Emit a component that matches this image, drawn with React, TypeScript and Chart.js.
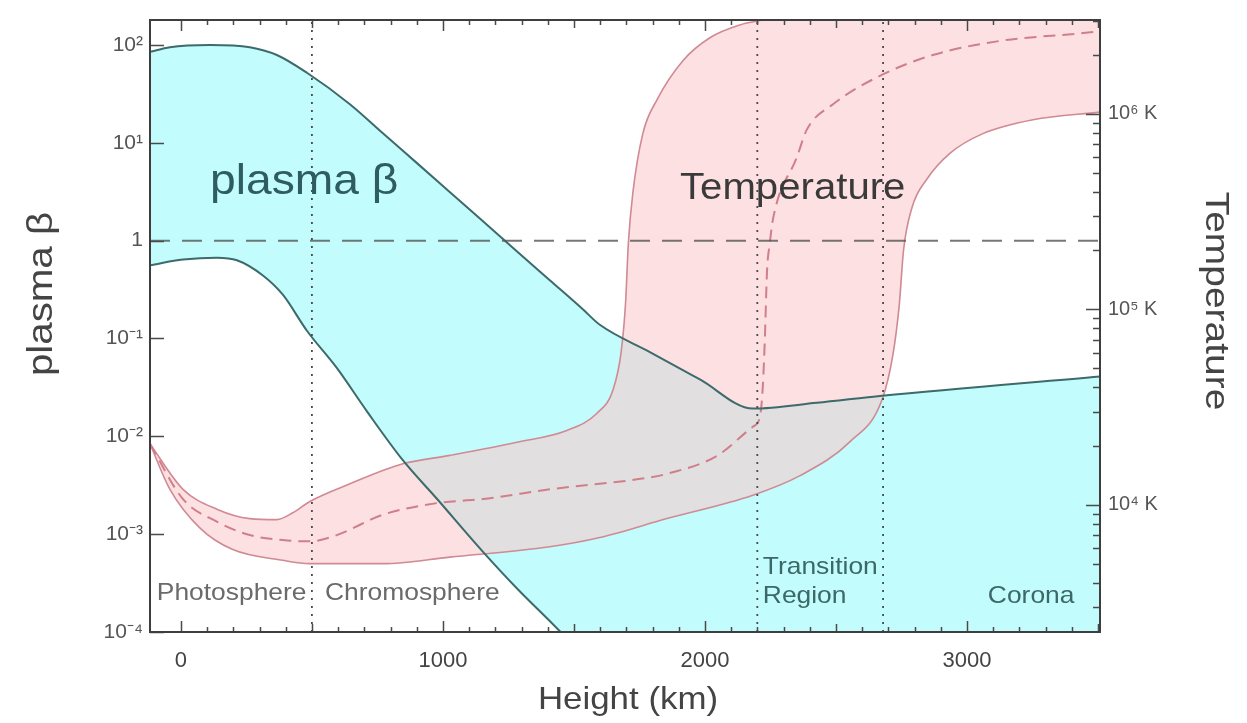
import React, { useEffect, useRef } from "react";
import { Chart, registerables } from "chart.js";

Chart.register(...registerables);

// ---------- axis ranges & ticks ----------
const X_MIN = -118;
const X_MAX = 3508;
const BETA_MIN = 1e-4;
const BETA_MAX = 180;
const T_MIN = 2235;
const T_MAX = 3.02e6;

const xTickValues = [0, 1000, 2000, 3000];
const xMinorStep = 100;
const betaTickValues = [1e-4, 1e-3, 1e-2, 1e-1, 1, 10, 100];
const betaTickLabels = ["10⁻⁴", "10⁻³", "10⁻²", "10⁻¹", "1", "10¹", "10²"];
const tempTickValues = [1e4, 1e5, 1e6];
const tempTickLabels = ["10⁴ K", "10⁵ K", "10⁶ K"];
const tempMinorMultipliers = [2, 3, 4, 5, 6, 7, 8, 9];

const xTitle = "Height (km)";
const betaTitle = "plasma β";
const tempTitle = "Temperature";

// ---------- plasma beta curves ----------
const betaUpperH = [-118, -42, 111, 263, 366, 481, 645, 771, 901, 1027, 1153, 1282, 1408, 1534, 1599, 1790, 1981, 2183, 2427, 2676, 3508];
const betaUpperV = [85, 95, 100, 95, 79, 52, 24.8, 12.5, 6.2, 3.13, 1.58, 0.78, 0.394, 0.199, 0.138, 0.0727, 0.0381, 0.0192, 0.022, 0.026, 0.041];

const betaLowerH = [-118, 8, 137, 214, 313, 389, 481, 595, 710, 847, 977, 1153, 1282, 1420, 1600, 3508];
const betaLowerV = [0.56, 0.64, 0.67, 0.63, 0.44, 0.28, 0.12, 0.05, 0.018, 0.0057, 0.0023, 6.6e-4, 2.8e-4, 1.2e-4, 3.9e-5, 3e-10];

// ---------- temperature curves ----------
const tempHotH = [-118, 8, 137, 263, 366, 427, 492, 645, 847, 1027, 1282, 1473, 1588, 1650, 1680, 1697, 1708, 1725, 1763, 1817, 1916, 2019, 2134, 2210, 2400, 3508];
const tempHotV = [20500, 12000, 9500, 8500, 8400, 9100, 10400, 12800, 16200, 17900, 20900, 24000, 29400, 39000, 60000, 107000, 220000, 394000, 792000, 1.18e6, 1.87e6, 2.45e6, 2.85e6, 3.0e6, 3.4e6, 4e6];

const tempCoolH = [-118, -42, 73, 198, 389, 492, 771, 1027, 1408, 1599, 1855, 2183, 2363, 2553, 2676, 2718, 2742, 2758, 2790, 2847, 2935, 3061, 3252, 3508];
const tempCoolV = [20500, 12000, 7600, 5900, 5200, 5000, 5000, 5400, 6100, 6800, 8500, 11200, 14100, 21000, 34500, 59000, 106000, 200000, 330000, 463000, 628000, 792000, 933000, 1.02e6];

const tempMidH = [-118, 8, 137, 263, 389, 492, 595, 771, 977, 1153, 1408, 1790, 1855, 2046, 2183, 2210, 2221, 2229, 2237, 2248, 2260, 2351, 2389, 2489, 2679, 2870, 3126, 3443, 3508];
const tempMidV = [20500, 10700, 8200, 7000, 6600, 6500, 7000, 8900, 10200, 10700, 12000, 13800, 14400, 17800, 25100, 28200, 40300, 72000, 156000, 220000, 290000, 600000, 830000, 1.12e6, 1.59e6, 2.0e6, 2.36e6, 2.59e6, 2.65e6];

// ---------- reference lines ----------
const betaUnity = 1;
const regionBoundaries = [500, 2200, 2680];

const FONT = '"Liberation Sans", Arial, Helvetica, sans-serif';

const pts = (hs: number[], vs: number[]) => hs.map((h, i) => ({ x: h, y: vs[i] }));

const frameTicksPlugin = {
  id: "frameTicks",
  afterDatasetsDraw(chart: any) {
    const { ctx, chartArea: a, scales } = chart;
    const xs = scales.x, ys = scales.y, ts = scales.y2;
    ctx.save();
    ctx.strokeStyle = "#4a4a4a";
    ctx.lineWidth = 1.5;
    ctx.beginPath();
    for (let v = 0; v <= X_MAX; v += xMinorStep) {
      const px = Math.round(xs.getPixelForValue(v)) + 0.5;
      const len = v % 1000 === 0 ? 11 : v % 500 === 0 ? 8 : 5;
      ctx.moveTo(px, a.bottom);
      ctx.lineTo(px, a.bottom - len);
      ctx.moveTo(px, a.top);
      ctx.lineTo(px, a.top + len);
    }
    betaTickValues.forEach((v) => {
      const py = Math.round(ys.getPixelForValue(v)) + 0.5;
      ctx.moveTo(a.left, py);
      ctx.lineTo(a.left + 14, py);
    });
    tempTickValues.forEach((v) => {
      const py = Math.round(ts.getPixelForValue(v)) + 0.5;
      ctx.moveTo(a.right, py);
      ctx.lineTo(a.right - 14, py);
    });
    [1e3, 1e4, 1e5, 1e6].forEach((d) => {
      tempMinorMultipliers.forEach((m) => {
        const v = d * m;
        if (v < T_MIN || v > T_MAX) return;
        const py = Math.round(ts.getPixelForValue(v)) + 0.5;
        ctx.moveTo(a.right, py);
        ctx.lineTo(a.right - 7, py);
      });
    });
    ctx.stroke();
    ctx.lineWidth = 2;
    ctx.strokeStyle = "#3e3e3e";
    ctx.strokeRect(a.left, a.top, a.right - a.left, a.bottom - a.top);
    ctx.restore();
  },
};

const annotations = [
  { text: "plasma β", x: 111, y: 3.0, axis: "y", size: 42, color: "#2f5c60" },
  { text: "Temperature", x: 1905, y: 368000, axis: "y2", size: 36.5, color: "#3a3a3a" },
  { text: "Photosphere", x: -92, y: 2.1e-4, axis: "y", size: 24, color: "#6a6a6a" },
  { text: "Chromosphere", x: 550, y: 2.1e-4, axis: "y", size: 24, color: "#6a6a6a" },
  { text: "Transition", x: 2221, y: 3.9e-4, axis: "y", size: 24, color: "#3c6868" },
  { text: "Region", x: 2221, y: 2.0e-4, axis: "y", size: 24, color: "#3c6868" },
  { text: "Corona", x: 3080, y: 2.0e-4, axis: "y", size: 24, color: "#3c6868" },
];

function stretchedText(ctx: any, text: string, x: number, y: number, rot: number, size: number, stretch: number, color: string, align: string) {
  ctx.save();
  ctx.translate(x, y);
  ctx.rotate(rot);
  ctx.scale(stretch, 1);
  ctx.font = `${size}px ${FONT}`;
  ctx.fillStyle = color;
  ctx.textAlign = align;
  ctx.textBaseline = align === "center" ? "middle" : "alphabetic";
  ctx.fillText(text, 0, 0);
  ctx.restore();
}

const annotationPlugin = {
  id: "annotations",
  afterDatasetsDraw(chart: any) {
    const { ctx, scales, chartArea: a } = chart;
    annotations.forEach((an) => {
      const px = scales.x.getPixelForValue(an.x);
      const py = scales[an.axis].getPixelForValue(an.y);
      stretchedText(ctx, an.text, px, py, 0, an.size, 1.1, an.color, "left");
    });
    // axis titles
    const cx = (a.left + a.right) / 2;
    const cy = (a.top + a.bottom) / 2;
    stretchedText(ctx, xTitle, cx + 3, a.bottom + 68, 0, 32, 1.09, "#444", "center");
    stretchedText(ctx, betaTitle, 42, cy - 32, -Math.PI / 2, 35, 1.15, "#444", "center");
    stretchedText(ctx, tempTitle, a.right + 115, cy - 25, Math.PI / 2, 33, 1.18, "#444", "center");
  },
};

export default function App() {
  const ref = useRef<HTMLCanvasElement>(null);

  useEffect(() => {
    document.body.style.margin = "0";
    const canvas = ref.current;
    if (!canvas) return;
    Chart.defaults.font.family = FONT;

    const tealLine = "#3d6a6a";
    const pinkLine = "#cf8a93";

    const datasets: any[] = [
      { data: pts(betaUpperH, betaUpperV), yAxisID: "y", borderWidth: 0, borderColor: "rgba(0,0,0,0)", backgroundColor: "#c2fcfc", fill: 1, order: 10 },
      { data: pts(betaLowerH, betaLowerV), yAxisID: "y", borderWidth: 0, borderColor: "rgba(0,0,0,0)", fill: false, order: 9 },
      { data: pts(tempHotH, tempHotV), yAxisID: "y2", borderWidth: 0, borderColor: "rgba(0,0,0,0)", backgroundColor: "rgba(251,199,203,0.56)", fill: 3, order: 8 },
      { data: pts(tempCoolH, tempCoolV), yAxisID: "y2", borderWidth: 0, borderColor: "rgba(0,0,0,0)", fill: false, order: 7 },
      { data: pts(tempHotH, tempHotV), yAxisID: "y2", borderWidth: 1.6, borderColor: pinkLine, fill: false, order: 6 },
      { data: pts(tempCoolH, tempCoolV), yAxisID: "y2", borderWidth: 1.6, borderColor: pinkLine, fill: false, order: 5 },
      { data: pts(tempMidH, tempMidV), yAxisID: "y2", borderWidth: 2, borderColor: "#cf7f8a", borderDash: [12, 7], fill: false, order: 4 },
      { data: pts(betaUpperH, betaUpperV), yAxisID: "y", borderWidth: 2, borderColor: tealLine, fill: false, order: 3 },
      { data: pts(betaLowerH, betaLowerV), yAxisID: "y", borderWidth: 2, borderColor: tealLine, fill: false, order: 2 },
      { data: [{ x: X_MIN, y: betaUnity }, { x: X_MAX, y: betaUnity }], yAxisID: "y", borderWidth: 2, borderColor: "rgba(85,85,85,0.8)", borderDash: [20, 12], fill: false, order: 1, cubicInterpolationMode: "default", tension: 0 },
      ...regionBoundaries.map((h) => ({
        data: [{ x: h, y: BETA_MIN }, { x: h, y: BETA_MAX }],
        yAxisID: "y",
        borderWidth: 1.8,
        borderColor: "#4a4a4a",
        borderDash: [2, 6],
        fill: false,
        order: 0,
        cubicInterpolationMode: "default",
        tension: 0,
      })),
    ];

    const chart = new Chart(canvas, {
      type: "line",
      data: { datasets },
      plugins: [frameTicksPlugin, annotationPlugin],
      options: {
        animation: false,
        responsive: false,
        events: [],
        layout: { padding: { top: 12, left: 0, right: 0, bottom: 0 } },
        elements: {
          point: { radius: 0, hoverRadius: 0 },
          line: { cubicInterpolationMode: "monotone" },
        },
        plugins: { legend: { display: false }, tooltip: { enabled: false } },
        scales: {
          x: {
            type: "linear",
            position: "bottom",
            min: X_MIN,
            max: X_MAX,
            afterBuildTicks: (s: any) => {
              s.ticks = xTickValues.map((v) => ({ value: v }));
            },
            afterFit: (s: any) => {
              s.height = 91;
            },
            ticks: {
              callback: (v: any) => String(v),
              autoSkip: false,
              maxRotation: 0,
              padding: 16,
              color: "#444",
              font: { size: 22, family: FONT },
            },
            grid: { display: false, drawTicks: false },
            border: { display: false },
            title: { display: false },
          },
          y: {
            type: "logarithmic",
            position: "left",
            min: BETA_MIN,
            max: BETA_MAX,
            afterBuildTicks: (s: any) => {
              s.ticks = betaTickValues.map((v) => ({ value: v }));
            },
            afterFit: (s: any) => {
              s.width = 150;
            },
            ticks: {
              callback: (v: any) => {
                const i = betaTickValues.findIndex((t) => Math.abs(t - v) / t < 1e-6);
                return i >= 0 ? betaTickLabels[i] : "";
              },
              autoSkip: false,
              padding: 7,
              color: "#555",
              font: { size: 21, family: FONT },
            },
            grid: { display: false, drawTicks: false },
            border: { display: false },
            title: { display: false },
          },
          y2: {
            type: "logarithmic",
            position: "right",
            min: T_MIN,
            max: T_MAX,
            afterBuildTicks: (s: any) => {
              s.ticks = tempTickValues.map((v) => ({ value: v }));
            },
            afterFit: (s: any) => {
              s.width = 147;
            },
            ticks: {
              callback: (v: any) => {
                const i = tempTickValues.findIndex((t) => Math.abs(t - v) / t < 1e-6);
                return i >= 0 ? tempTickLabels[i] : "";
              },
              autoSkip: false,
              padding: 8,
              color: "#555",
              font: { size: 20, family: FONT },
            },
            grid: { display: false, drawTicks: false },
            border: { display: false },
            title: { display: false },
          },
        },
      } as any,
    });

    return () => chart.destroy();
  }, []);

  return (
    <div style={{ width: 1247, height: 723, background: "#fff" }}>
      <canvas ref={ref} width={1247} height={723} style={{ display: "block" }} />
    </div>
  );
}
